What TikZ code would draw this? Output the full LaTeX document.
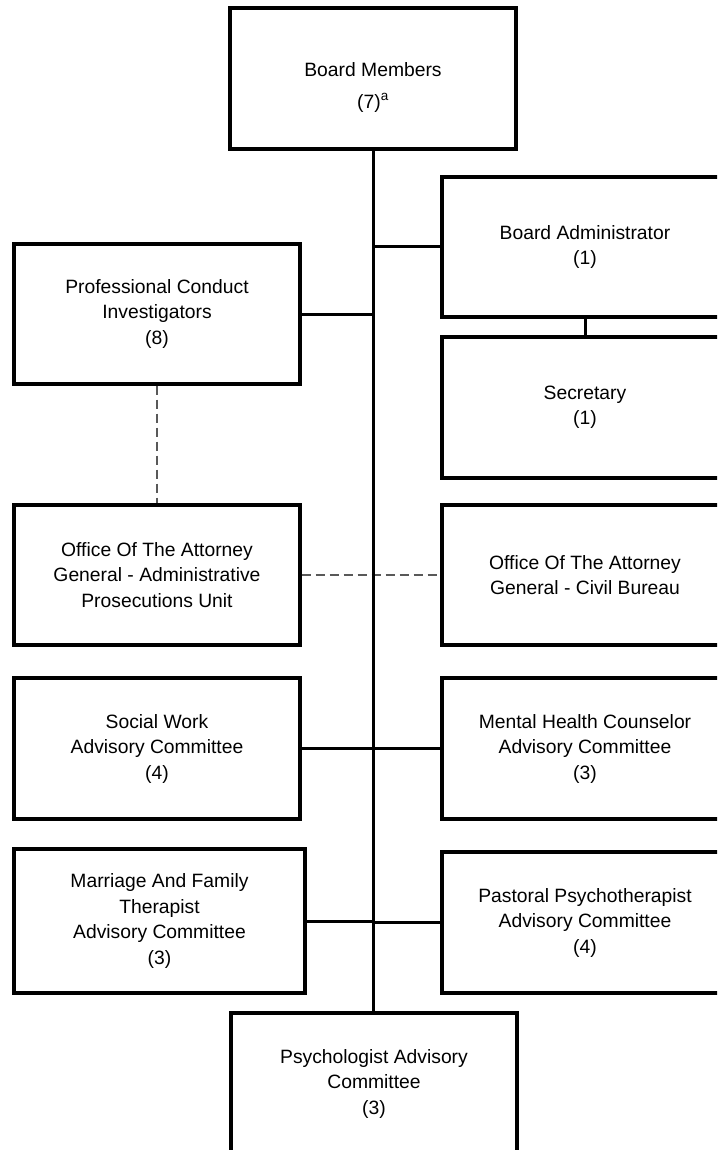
\documentclass[tikz,border=0pt]{standalone}
\usepackage{fontspec}
\setmainfont{Liberation Sans}
\begin{document}
\begin{tikzpicture}[x=1pt,y=-1pt,
  box/.style={draw=black,line width=3.2pt,fill=white,minimum width=286pt,align=center,
    font=\fontsize{19.3}{25.5}\selectfont,inner sep=0pt},
  link/.style={draw=black,line width=3pt},
  dlink/.style={draw=black!65,line width=1.2pt,dash pattern=on 9pt off 5pt}]
\useasboundingbox (0,0) rectangle (717,1150);
\clip (0,0) rectangle (717,1150);
\node[box,minimum height=141pt] (board) at (373,78.5) {\rule{0pt}{32pt}Board Members\\[6pt](7)\textsuperscript{a}};
\node[box,minimum height=140pt] (admin) at (585,247) {Board Administrator\\(1)};
\node[box,minimum height=141pt] (sec) at (585,407.5) {Secretary\\(1)};
\node[box,minimum height=140pt] (prof) at (157,314) {Professional Conduct\\Investigators\\(8)};
\node[box,minimum height=140pt] (agadm) at (157,575) {Office Of The Attorney\\General - Administrative\\Prosecutions Unit};
\node[box,minimum height=140pt] (agciv) at (585,575) {Office Of The Attorney\\General - Civil Bureau};
\node[box,minimum height=141pt] (social) at (157,748.5) {Social Work\\Advisory Committee\\(4)};
\node[box,minimum height=141pt] (mental) at (585,748.5) {Mental Health Counselor\\Advisory Committee\\(3)};
\node[box,minimum height=144pt,minimum width=291pt] (marriage) at (159.5,921) {Marriage And Family\\Therapist\\Advisory Committee\\(3)};
\node[box,minimum height=141pt] (pastoral) at (585,922.5) {Pastoral Psychotherapist\\Advisory Committee\\(4)};
\node[box,minimum height=141pt] (psych) at (374,1083.5) {Psychologist Advisory\\Committee\\(3)};
\coordinate (tr) at (373,0);
\draw[dlink] (prof.south) -- (agadm.north);
\draw[dlink] (agadm.east) -- (agciv.west);
\draw[link] (board.south) -- (board.south |- psych.north);
\draw[link] (admin.west) -- (admin.west -| tr);
\draw[link] (prof.east) -- (prof.east -| tr);
\draw[link] (admin.south) -- (sec.north);
\draw[link] (social.east) -- (mental.west);
\draw[link] (marriage.east) -- (marriage.east -| tr);
\draw[link] (pastoral.west) -- (pastoral.west -| tr);
\end{tikzpicture}
\end{document}
